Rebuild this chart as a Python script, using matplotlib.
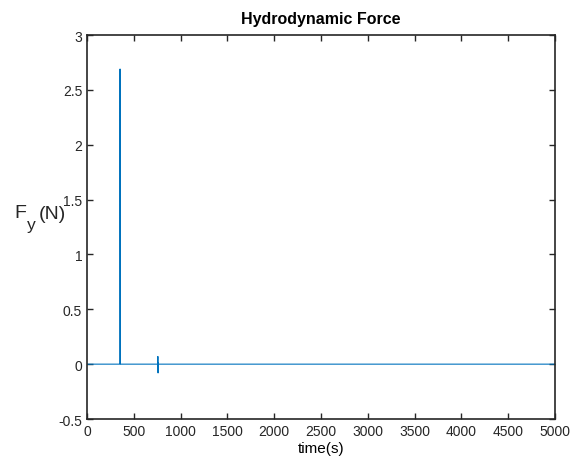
import matplotlib
matplotlib.use("Agg")
import matplotlib.pyplot as plt

plt.rcParams['font.family'] = ['Liberation Sans', 'DejaVu Sans']

# Time history of the vertical hydrodynamic force
time_s = [0, 100, 200, 300, 350, 352, 353, 355, 357, 600, 755, 757, 758, 759, 760, 762, 1000, 2000, 3000, 4000, 5000]
force_y = [0, 0, 0, 0, 0, 1.9, 2.69, 1.2, 0, 0, 0, 0.07, -0.01, -0.08, 0.01, 0, 0, 0, 0, 0, 0]

xticks = [0, 500, 1000, 1500, 2000, 2500, 3000, 3500, 4000, 4500, 5000]
yticks = [-0.5, 0, 0.5, 1, 1.5, 2, 2.5, 3]

fig = plt.figure(figsize=(5.79, 4.64), dpi=100)
ax = fig.add_axes([0.1503, 0.0948, 0.8083, 0.8276])
ax.plot(time_s, force_y, color='#0072BD', linewidth=0.8)

ax.set_xlim(0, 5000)
ax.set_ylim(-0.5, 3)
ax.set_xticks(xticks)
ax.set_xticklabels([str(t) for t in xticks])
ax.set_yticks(yticks)
ax.set_yticklabels(['-0.5', '0', '0.5', '1', '1.5', '2', '2.5', '3'])
ax.tick_params(direction='in', top=True, right=True, length=4, width=1, labelsize=10, colors='#262626')
for sp in ax.spines.values():
    sp.set_linewidth(1.2)
    sp.set_color('#262626')

ax.set_title('Hydrodynamic Force', fontsize=11.5, fontweight='bold', pad=9)
ax.set_xlabel('time(s)', fontsize=11, labelpad=2)

# y-axis label built from pieces so the subscript sits low and apart
lab_kw = dict(color='#262626', transform=fig.transFigure)
fig.text(14 / 579, 1 - 214 / 464, 'F', fontsize=14, va='center', ha='left', **lab_kw)
fig.text(27 / 579, 1 - 226 / 464, 'y', fontsize=12.5, va='center', ha='left', **lab_kw)
fig.text(39 / 579, 1 - 215 / 464, '(N)', fontsize=14, va='center', ha='left', **lab_kw)

fig.savefig('out.png', dpi=100)
